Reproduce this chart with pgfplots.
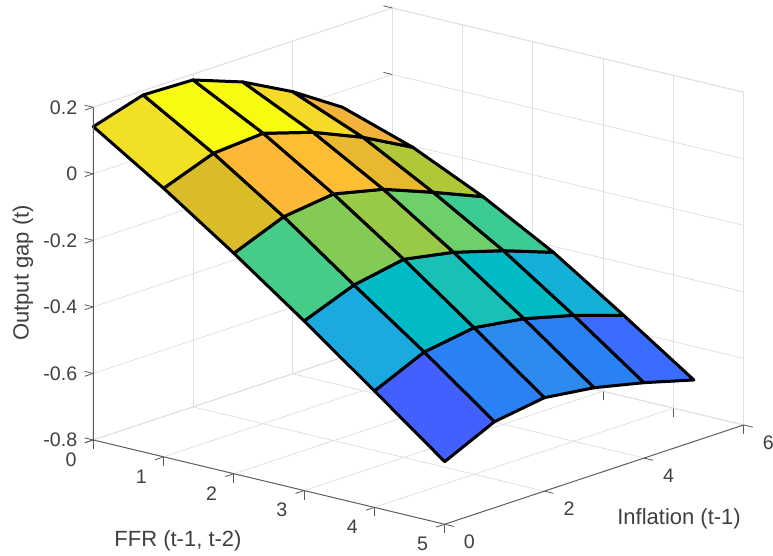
\documentclass[border=0pt]{standalone}
\usepackage{pgfplots}
\usepackage{fontspec}
\setmainfont{Liberation Sans}
\pgfplotsset{compat=1.18}
\pgfplotsset{colormap={fitted}{rgb255(0pt)=(67,96,255) rgb255(29pt)=(58,108,255) rgb255(68pt)=(42,128,245) rgb255(91pt)=(45,138,238) rgb255(160pt)=(26,170,223) rgb255(172pt)=(21,176,216) rgb255(218pt)=(0,187,197) rgb255(246pt)=(26,191,181) rgb255(297pt)=(60,203,146) rgb255(313pt)=(69,204,136) rgb255(356pt)=(109,208,106) rgb255(373pt)=(132,203,85) rgb255(391pt)=(152,202,72) rgb255(412pt)=(176,200,56) rgb255(457pt)=(218,187,40) rgb255(476pt)=(232,184,46) rgb255(498pt)=(243,178,58) rgb255(513pt)=(253,184,56) rgb255(523pt)=(253,190,52) rgb255(577pt)=(245,219,40) rgb255(592pt)=(242,224,38) rgb255(633pt)=(248,250,16)}}
\definecolor{txt}{gray}{0.25}
\definecolor{gridc}{gray}{0.88}
\definecolor{axc}{gray}{0.35}
\pgfplotstableread{
x y z
0 0 0.1417
0 1 0.1872
0 2 0.1826
0 3 0.1268
0 4 0.0479
0 5 -0.0487

1 0 0.0072
1 1 0.0627
1 2 0.0730
1 3 0.0263
1 4 -0.0385
1 5 -0.1183

2 0 -0.1375
2 1 -0.0772
2 2 -0.0587
2 3 -0.0943
2 4 -0.1531
2 5 -0.2161

3 0 -0.2903
3 1 -0.2318
3 2 -0.2043
3 3 -0.2330
3 4 -0.2780
3 5 -0.3325

4 0 -0.4500
4 1 -0.3825
4 2 -0.3592
4 3 -0.3819
4 4 -0.4215
4 5 -0.4712

5 0 -0.6118
5 1 -0.5414
5 2 -0.5190
5 3 -0.5387
5 4 -0.5734
5 5 -0.6150
}\surfdata
\begin{document}
\begin{tikzpicture}
\useasboundingbox (0,0) rectangle (773pt,-556pt);
\begin{axis}[
  at={(93.3pt,-173.8pt)}, anchor=origin,
  x={(70.28pt,-16.86pt)}, y={(49.83pt,16.55pt)}, z={(0pt,332.7pt)},
  xmin=0,xmax=5,ymin=0,ymax=6,zmin=-0.8,zmax=0.2,
  xtick={0,1,2,3,4,5}, ytick={0,2,4,6}, ztick={-0.8,-0.6,-0.4,-0.2,0,0.2},
  xticklabels={0,1,2,3,4,5}, yticklabels={0,2,4,6},
  zticklabels={-0.8,-0.6,-0.4,-0.2,0,0.2},
  xtick pos=left, ytick pos=left, ztick pos=left,
  grid=major, grid style={gridc, line width=0.8pt},
  axis line style={gridc, line width=0.8pt},
  tick style={axc, line width=0.8pt}, tick align=outside, major tick length=9pt,
  ytick style={draw=none},
  clip=false,
  tick label style={font=\fontsize{19.6}{23}\selectfont, text=txt},
  x tick label style={xshift=-6pt,yshift=-6pt},
  y tick label style={xshift=7.5pt,yshift=-5pt},
  z tick label style={xshift=-4pt,yshift=3.5pt},
  label style={font=\fontsize{22}{26}\selectfont, text=txt},
  xlabel={FFR (t-1, t-2)}, ylabel={Inflation (t-1)}, zlabel={Output gap (t)},
  x label style={at={(axis cs:3.137,-2.725,-0.8)}, anchor=center, rotate=0, yshift=-3pt},
  y label style={at={(axis cs:6.747,2.239,-0.8)}, anchor=center, rotate=0, yshift=-2pt},
  z label style={at={(axis cs:-1,0,-0.349)}, anchor=center, rotate=0},
  colormap name=fitted, point meta min=-0.45, point meta max=0.183,
]
\addplot3[surf, shader=flat corner, draw=black, line width=3pt, line join=round, mesh/rows=6, mesh/cols=6] table[x=x,y=y,z=z] {\surfdata};
\draw[axc, line width=0.9pt] (axis cs:0,0,0.2) -- (axis cs:0,0,-0.8) -- (axis cs:5,0,-0.8) -- (axis cs:5,6,-0.8);
\draw[axc, line width=0.8pt] (axis cs:5,0,-0.8) -- (axis cs:5.13,0,-0.8);
\draw[axc, line width=0.8pt] (axis cs:5,2,-0.8) -- (axis cs:5.13,2,-0.8);
\draw[axc, line width=0.8pt] (axis cs:5,4,-0.8) -- (axis cs:5.13,4,-0.8);
\draw[axc, line width=0.8pt] (axis cs:5,6,-0.8) -- (axis cs:5.13,6,-0.8);
\end{axis}
\end{tikzpicture}
\end{document}
